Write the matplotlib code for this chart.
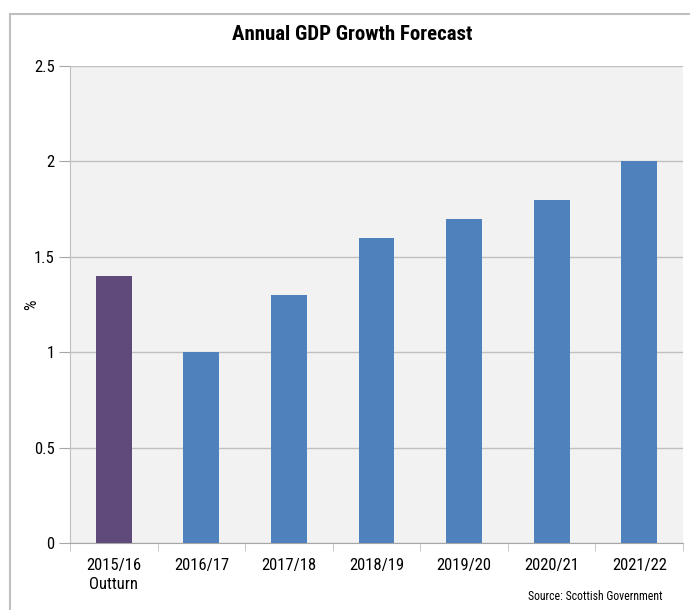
import matplotlib
matplotlib.use("Agg")
import matplotlib.pyplot as plt
from matplotlib.lines import Line2D

plt.rcParams['font.family'] = ['Roboto Condensed', 'Archivo Narrow', 'Liberation Sans', 'DejaVu Sans']

categories = ["2015/16\nOutturn", "2016/17", "2017/18", "2018/19", "2019/20", "2020/21", "2021/22"]
values = [1.4, 1.0, 1.3, 1.6, 1.7, 1.8, 2.0]
colors = ["#604a7b", "#4f81bd", "#4f81bd", "#4f81bd", "#4f81bd", "#4f81bd", "#4f81bd"]
yticks = [0, 0.5, 1, 1.5, 2, 2.5]
ytick_labels = ["0", "0.5", "1", "1.5", "2", "2.5"]

W, H = 690, 610
fig = plt.figure(figsize=(W / 100, H / 100), dpi=100)
ax = fig.add_axes([70 / W, 1 - 543 / H, (683 - 70) / W, (543 - 66) / H])
ax.set_facecolor("#f2f2f2")

x = list(range(len(categories)))
ax.bar(x, values, width=0.41, color=colors, zorder=3)

ax.set_xlim(-0.5, len(categories) - 0.5)
ax.set_ylim(0, 2.5)
ax.set_yticks(yticks)
ax.set_yticklabels(ytick_labels, fontsize=12)
ax.yaxis.grid(True, color="#c0c0c0", linewidth=1, zorder=0)
ax.tick_params(axis="y", length=8, color="#a6a6a6", pad=3)

ax.set_xticks(x)
ax.set_xticklabels(categories, fontsize=12, linespacing=1.3)
ax.tick_params(axis="x", length=0, pad=11)
ax.set_xticks([i + 0.5 for i in range(-1, len(categories))], minor=True)
ax.tick_params(axis="x", which="minor", length=6, color="#bfbfbf", direction="out")

for s in ["top", "right"]:
    ax.spines[s].set_visible(False)
ax.spines["left"].set_color("#bfbfbf")
ax.spines["bottom"].set_color("#a6a6a6")

ax.set_ylabel("%", fontsize=12)
ax.yaxis.set_label_coords(-0.05, 0.5)

fig.text(352 / W, 1 - 35 / H, "Annual GDP Growth Forecast", ha="center", va="center",
         fontsize=15, fontweight="bold")
fig.text(663 / W, 1 - 597 / H, "Source: Scottish Government", ha="right", va="center",
         fontsize=8.5)

# outer frame (left and top edges visible)
fig.add_artist(Line2D([10 / W, 10 / W], [0, 1 - 14 / H], transform=fig.transFigure,
                      color="#bfbfbf", linewidth=1.5))
fig.add_artist(Line2D([10 / W, 1], [1 - 14 / H, 1 - 14 / H], transform=fig.transFigure,
                      color="#bfbfbf", linewidth=1.5))

fig.savefig("out.png", dpi=100)
